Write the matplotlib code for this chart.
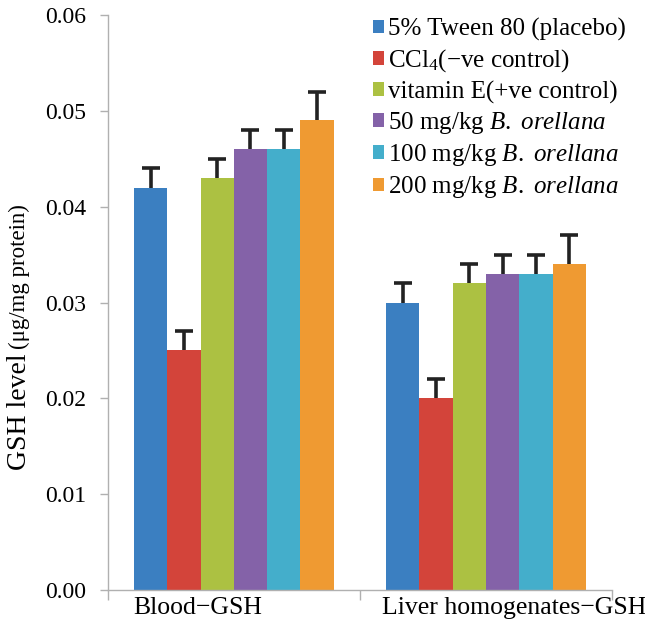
import numpy as np
import matplotlib
matplotlib.use("Agg")
import matplotlib.pyplot as plt
import matplotlib.transforms as mtransforms
from matplotlib.patches import Patch

plt.rcParams["font.family"] = ["Liberation Serif", "DejaVu Serif"]
plt.rcParams["mathtext.fontset"] = "custom"
plt.rcParams["mathtext.rm"] = "Liberation Serif"
plt.rcParams["mathtext.it"] = "Liberation Serif:italic"

# ── data ──────────────────────────────────────────────────────────────────
categories = ["Blood\u2212GSH", "Liver homogenates\u2212GSH"]
groups = [
    "5% Tween 80 (placebo)",
    "CCl$_4$(\u2212ve control)",
    "vitamin E(+ve control)",
    "50 mg/kg $\\it{B.\\ orellana}$",
    "100 mg/kg $\\it{B.\\ orellana}$",
    "200 mg/kg $\\it{B.\\ orellana}$",
]
blood_vals = [0.042, 0.025, 0.043, 0.046, 0.046, 0.049]
blood_err  = [0.002, 0.002, 0.002, 0.002, 0.002, 0.003]
liver_vals = [0.030, 0.020, 0.032, 0.033, 0.033, 0.034]
liver_err  = [0.002, 0.002, 0.002, 0.002, 0.002, 0.003]
y_ticks = [0.00, 0.01, 0.02, 0.03, 0.04, 0.05, 0.06]

colors = ["#3b7fc1", "#d3443a", "#acc142", "#8462a8", "#44aecb", "#ef9a32"]

# ── figure ────────────────────────────────────────────────────────────────
fig = plt.figure(figsize=(6.45, 6.28), dpi=100)
ax = fig.add_axes([0.167, 0.0605, 0.782, 0.9155])

x = np.arange(len(categories))
bw = 0.132
for j, (col, lab) in enumerate(zip(colors, groups)):
    vals = [blood_vals[j], liver_vals[j]]
    errs = [blood_err[j], liver_err[j]]
    pos = x + (j - 2.5) * bw
    ax.bar(pos, vals, width=bw, color=col, label=lab, zorder=2)
    _, caps, _ = ax.errorbar(pos, vals, yerr=[np.zeros(2), errs], fmt="none",
                             ecolor="#222222", elinewidth=2.6, capsize=6.5,
                             capthick=2.6, zorder=3)
    caps[0].set_visible(False)   # upper whisker only

ax.set_xlim(-0.5, 1.5)
ax.set_ylim(0, 0.06)
ax.set_yticks(y_ticks)
ax.set_yticklabels([f"{v:.2f}" for v in y_ticks], fontsize=17)
ax.set_xticks(x)
ax.set_xticklabels(categories, fontsize=18.5)
ax.tick_params(axis="x", which="major", length=0, pad=5)
ax.set_xticks([-0.5, 0.5, 1.5], minor=True)
ax.tick_params(axis="x", which="minor", length=7, color="#b0b0b0", width=1)
ax.tick_params(axis="y", length=6, color="#b0b0b0", width=1, pad=9.5)

# category labels in the original sit off-centre (left for blood, right for liver)
for lbl, dx in zip(ax.get_xticklabels(), [-0.36, 0.28]):
    lbl.set_transform(lbl.get_transform() +
                      mtransforms.ScaledTranslation(dx, 0, fig.dpi_scale_trans))

for side in ("top", "right"):
    ax.spines[side].set_visible(False)
for side in ("left", "bottom"):
    ax.spines[side].set_color("#b0b0b0")
    ax.spines[side].set_linewidth(1)

handles = [Patch(facecolor=c, edgecolor="none") for c in colors]
ax.legend(handles, groups, loc="upper left",
          bbox_to_anchor=(373 / 645, 1 - 18 / 628), bbox_transform=fig.transFigure,
          frameon=False, fontsize=18, handlelength=0.45, handleheight=0.45,
          handletextpad=0.15, labelspacing=0.25, borderaxespad=0, borderpad=0)

# y label: main part larger, unit part smaller, placed end to end
renderer = fig.canvas.get_renderer()
t1 = fig.text(0.030, 1 - 470 / 628, "GSH level", rotation=90, ha="center",
              va="bottom", fontsize=20)
bb = t1.get_window_extent(renderer)
y2 = (bb.y1 + 4) / fig.bbox.height
fig.text(0.030, y2, "(\u03bcg/mg protein)", rotation=90,
         ha="center", va="bottom", fontsize=16.5)

fig.savefig("out.png", dpi=100)
